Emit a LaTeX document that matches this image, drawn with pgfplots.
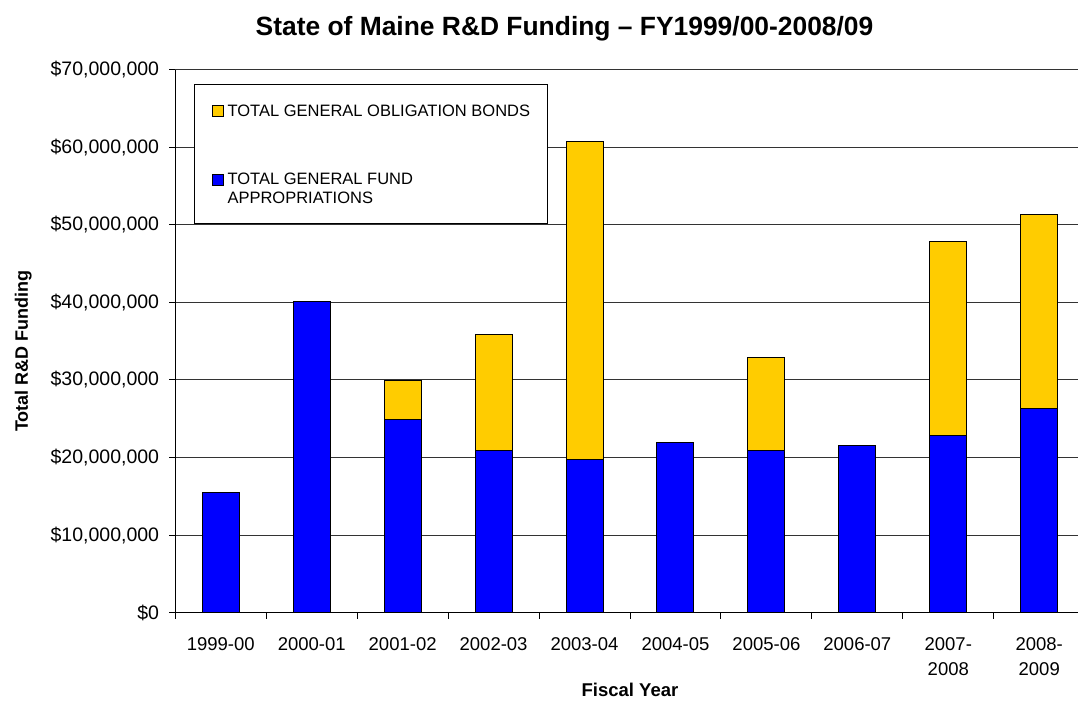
\documentclass[border=0pt]{standalone}
\usepackage{pgfplots}
\pgfplotsset{compat=1.18}
\usepackage{fontspec}
\setmainfont{Liberation Sans}
\definecolor{fundblue}{HTML}{0000FF}
\definecolor{bondyellow}{HTML}{FFCC00}
\begin{document}
\begin{tikzpicture}
\useasboundingbox (-175.3pt,-91.3pt) rectangle (902.7pt,612.7pt);
\begin{axis}[
  at={(0pt,0pt)}, anchor=south west,
  scale only axis, width=909.4pt, height=543pt,
  ybar stacked, bar width=37pt,
  xmin=-0.5, xmax=9.5, ymin=0, ymax=70000000,
  axis lines*=left,
  axis line style={-, line width=1pt, black},
  tick align=outside,
  xtick={0,1,2,3,4,5,6,7,8,9},
  xticklabels={1999-00,2000-01,2001-02,2002-03,2003-04,2004-05,2005-06,2006-07,{2007-\\2008},{2008-\\2009}},
  major x tick style={draw=none},
  minor xtick={-0.5,0.5,1.5,2.5,3.5,4.5,5.5,6.5,7.5,8.5,9.5},
  minor tick length=6pt,
  major tick length=6pt,
  tick style={line width=1pt, black},
  ytick={0,10000000,20000000,30000000,40000000,50000000,60000000,70000000},
  yticklabels={{\$0},{\$10,000,000},{\$20,000,000},{\$30,000,000},{\$40,000,000},{\$50,000,000},{\$60,000,000},{\$70,000,000}},
  scaled y ticks=false,
  ymajorgrids,
  major grid style={black!80, line width=1pt},
  yticklabel style={font=\fontsize{19.5}{22}\selectfont, anchor=east, inner sep=0pt, xshift=-10pt},
  xticklabel style={font=\fontsize{18.5}{25}\selectfont, align=center, anchor=north, inner sep=0pt, yshift=-19pt},
  title={State of Maine R\&D Funding – FY1999/00-2008/09},
  title style={font=\bfseries\fontsize{26.4}{30}\selectfont, at={(0.428,1.0519)}, anchor=base, inner sep=0pt},
  xlabel={Fiscal Year},
  xlabel style={font=\bfseries\fontsize{18.5}{22}\selectfont, at={(0.5,-0.1547)}, anchor=base, inner sep=0pt},
  ylabel={Total R\&D Funding},
  ylabel style={font=\bfseries\fontsize{18}{22}\selectfont, at={(-0.162,0.482)}, anchor=base, inner sep=0pt},
  legend image code/.code={\draw[#1, line width=1pt] (0pt,3.5pt) rectangle (11pt,14.5pt);},
  reverse legend,
  legend cell align=left,
  legend style={at={(0.0206,0.9731)}, anchor=north west, draw=black, line width=1pt, fill=white,
    inner xsep=17pt, inner ysep=20pt, row sep=38pt,
    font=\fontsize{16.5}{18.7}\selectfont,
    nodes={inner sep=0pt, text depth=19pt},
    /tikz/every odd column/.append style={column sep=4pt}},
]
\addplot[fill=fundblue, draw=black, line width=1pt] coordinates {
  (0,15500000) (1,40100000) (2,24900000) (3,20900000) (4,19800000)
  (5,21900000) (6,20900000) (7,21600000) (8,22900000) (9,26300000)};
\addlegendentry{\parbox[t]{200pt}{TOTAL GENERAL FUND\\APPROPRIATIONS}}
\addplot[fill=bondyellow, draw=black, line width=1pt] coordinates {
  (0,0) (1,0) (2,5000000) (3,14900000) (4,40900000)
  (5,0) (6,12000000) (7,0) (8,25000000) (9,25000000)};
\addlegendentry{TOTAL GENERAL OBLIGATION BONDS}
\end{axis}
\end{tikzpicture}
\end{document}
